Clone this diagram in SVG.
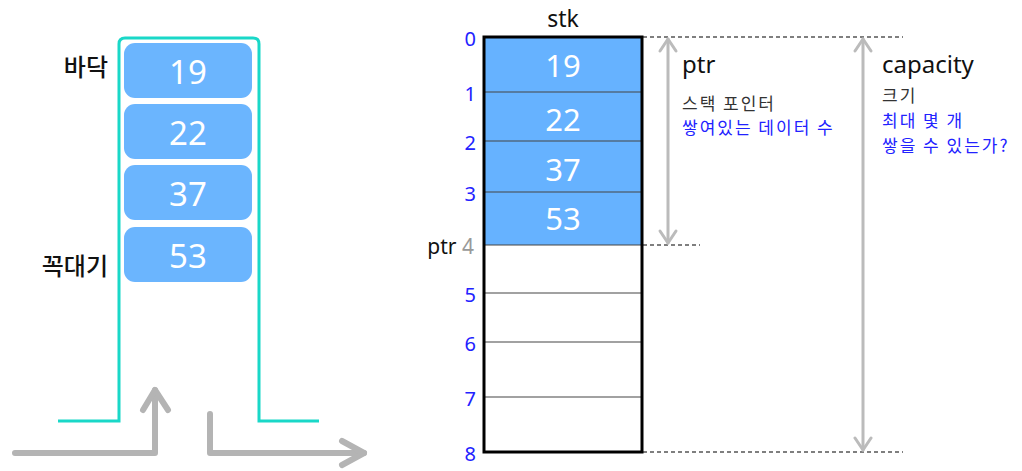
<svg xmlns="http://www.w3.org/2000/svg" width="1022" height="471" viewBox="0 0 1022 471">
<style>
.ko{font-family:"Noto Sans CJK KR","Noto Sans",sans-serif}
.num{font-family:"Noto Sans","Noto Sans CJK KR",sans-serif}
.box{fill:#6bb5fe}
.bn{font-size:33px;fill:#fff;text-anchor:middle}
.sn{font-size:31px;fill:#fff;text-anchor:middle}
.idx{font-size:20px;fill:#2222ff;text-anchor:end}
.row{stroke:#444;stroke-width:1.2}
.dash{stroke:#555;stroke-width:1.5;stroke-dasharray:4 3;fill:none}
.garr{stroke:#b4b4b4;stroke-width:6;fill:none;stroke-linecap:round;stroke-linejoin:round}
.darr{stroke:#bbb;stroke-width:3;fill:none;stroke-linecap:round;stroke-linejoin:round}
.note{font-size:17px;letter-spacing:2px}
</style>
<g id="container">
<path d="M58 421 H119 V44 Q119 38 125 38 H253 Q259 38 259 44 V421 H319" fill="none" stroke="#19d8c8" stroke-width="3"/>
</g>
<g id="box19"><rect class="box" x="124" y="43" width="128" height="55" rx="11"/><text class="num bn" x="188" y="84">19</text></g>
<g id="box22"><rect class="box" x="124" y="104" width="128" height="55" rx="11"/><text class="num bn" x="188" y="145">22</text></g>
<g id="box37"><rect class="box" x="124" y="165" width="128" height="55" rx="11"/><text class="num bn" x="188" y="206">37</text></g>
<g id="box53"><rect class="box" x="124" y="227" width="128" height="55" rx="11"/><text class="num bn" x="188" y="268">53</text></g>
<g id="label-bottom"><text class="ko" x="108" y="76" font-size="24" font-weight="500" text-anchor="end" fill="#111">바닥</text></g>
<g id="label-top"><text class="ko" x="108" y="275" font-size="24" font-weight="500" text-anchor="end" fill="#111">꼭대기</text></g>
<g id="connectors">
<path class="garr" d="M15 453 H155 V390"/>
<path class="garr" d="M143 410 L155 390 L168 410"/>
<path class="garr" d="M210 414 V453 H364"/>
<path class="garr" d="M342 441 L364 453 L342 465"/>
<line class="dash" x1="643" y1="37" x2="903" y2="37"/>
<line class="dash" x1="643" y1="245" x2="700" y2="245"/>
<line class="dash" x1="643" y1="452" x2="903" y2="452"/>
<line class="darr" x1="668" y1="39" x2="668" y2="243"/>
<path class="darr" d="M660 51 L668 39 L676 51 M660 231 L668 243 L676 231"/>
<line class="darr" x1="863" y1="39" x2="863" y2="450"/>
<path class="darr" d="M855 51 L863 39 L871 51 M855 438 L863 450 L871 438"/>
</g>
<g id="stk">
<rect x="484" y="37" width="158" height="208" fill="#66b2ff"/>
<line class="row" x1="484" y1="92" x2="642" y2="92"/>
<line class="row" x1="484" y1="141" x2="642" y2="141"/>
<line class="row" x1="484" y1="192" x2="642" y2="192"/>
<line class="row" x1="484" y1="245" x2="642" y2="245"/>
<line class="row" x1="484" y1="293" x2="642" y2="293"/>
<line class="row" x1="484" y1="342" x2="642" y2="342"/>
<line class="row" x1="484" y1="397" x2="642" y2="397"/>
<rect x="484" y="37" width="158" height="415" fill="none" stroke="#000" stroke-width="3"/>
<text class="num" x="563" y="27" font-size="23" text-anchor="middle" fill="#111">stk</text>
<text class="num sn" x="563" y="77">19</text>
<text class="num sn" x="563" y="131">22</text>
<text class="num sn" x="563" y="181">37</text>
<text class="num sn" x="563" y="230">53</text>
</g>
<g id="indices">
<text class="num idx" x="476" y="46">0</text>
<text class="num idx" x="476" y="101">1</text>
<text class="num idx" x="476" y="150">2</text>
<text class="num idx" x="476" y="201">3</text>
<text class="num" x="474" y="254" font-size="21" text-anchor="end"><tspan fill="#111">ptr </tspan><tspan fill="#999">4</tspan></text>
<text class="num idx" x="476" y="302">5</text>
<text class="num idx" x="476" y="351">6</text>
<text class="num idx" x="476" y="406">7</text>
<text class="num idx" x="476" y="461">8</text>
</g>
<g id="ptr-note">
<text class="num" x="682" y="73" font-size="24" fill="#111">ptr</text>
<text class="ko note" x="682" y="110" fill="#333">스택 포인터</text>
<text class="ko note" x="682" y="134" fill="#2222ff">쌓여있는 데이터 수</text>
</g>
<g id="capacity-note">
<text class="num" x="882" y="73" font-size="24" fill="#111">capacity</text>
<text class="ko note" x="882" y="102" fill="#333">크기</text>
<text class="ko note" x="882" y="127" fill="#2222ff">최대 몇 개</text>
<text class="ko note" x="882" y="152" fill="#2222ff">쌓을 수 있는가?</text>
</g>
</svg>
